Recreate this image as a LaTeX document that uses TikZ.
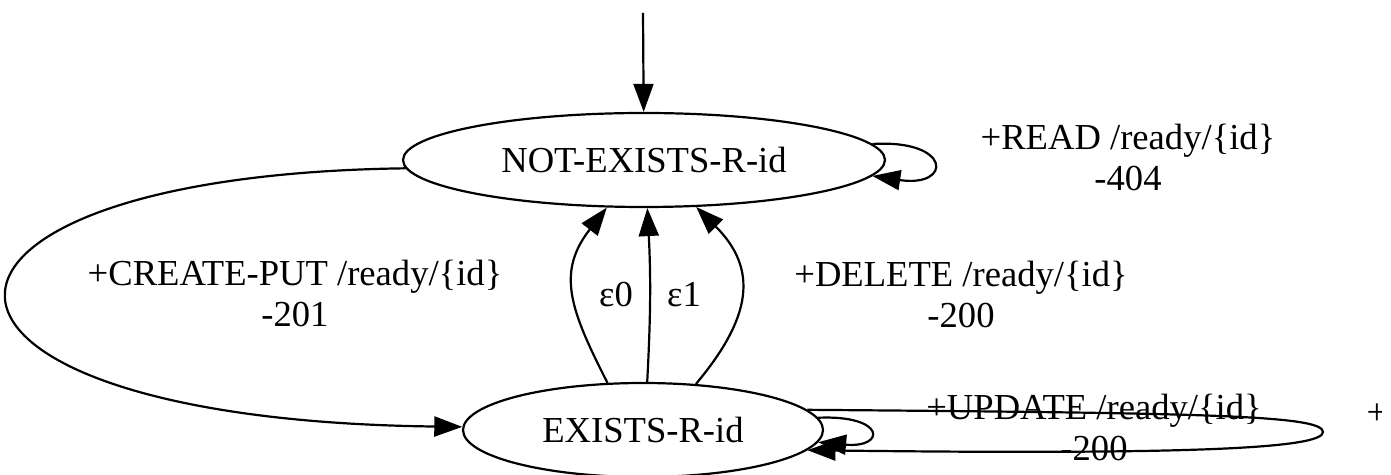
\documentclass[tikz,border=0pt]{standalone}
\usepackage{fontspec}
\setmainfont{Liberation Serif}
\usetikzlibrary{arrows.meta, shapes.geometric}

\begin{document}
\begin{tikzpicture}[
                  x=0.5pt, y=0.5pt,
                  txt/.style={font=\fontsize{18.3pt}{20.5pt}\selectfont},
                  state/.style={txt, draw, ellipse, line width=1.1pt, inner sep=0pt,
                                minimum height=47pt},
                  lbl/.style={txt, align=center, inner sep=0pt},
                  arr/.style={-{Triangle[length=14pt, width=10pt]}, line width=1.1pt},
            ]
            \useasboundingbox (0,0) rectangle (1391,475);
            \clip (0,0) rectangle (1381,475);

            % States
            \node[state, minimum width=241pt] (ne) at (644,315) {NOT-EXISTS-R-id};
            \node[state, minimum width=180pt] (ex) at (643,45) {EXISTS-R-id};
            \coordinate (start) at (643,462);

            % Edge labels
            \node[lbl] (lread) at (1128,317.5) {+READ /ready/\{id\}\\-404};
            \node[lbl] (lcreate) at (295,182) {+CREATE-PUT /ready/\{id\}\\-201};
            \node[lbl] (ldelete) at (961,181) {+DELETE /ready/\{id\}\\-200};
            \node[lbl] (lupdate) at (1094,48) {+UPDATE /ready/\{id\}\\-200};
            \node[lbl, anchor=base] (leps0) at (616,168) {ε0};
            \node[lbl, anchor=base] (leps1) at (684,168) {ε1};
            \node[lbl, anchor=base] (lcut) at (1377,50) {+};

            % Arrows
            \draw[arr] (start) -- (ne);
            \draw[arr] (ne.4) .. controls +(80,5) and +(80,-12) .. (ne.-4);
            \draw[arr] (ne.182) .. controls +(-538,-7) and +(-597,7) .. (ex.179);
            % epsilon and delete edges back up
            \draw[arr] (ex.127) to[out=117, in=-128, looseness=1.2] (ne.-128);
            \draw[arr] (ex.85) to[bend right=3] (ne.-86);
            \draw[arr] (ex.41) to[out=50, in=-45, looseness=1.27] (ne.-42);
            % self loops on EXISTS-R-id
            \draw[arr] (ex.4) .. controls +(68,3) and +(68,-6) .. (ex.-4);
            \coordinate (utip) at (1323,43);
            \draw[arr] (ex.7) .. controls (1200,62) and (1323,60) .. (utip)
                  .. controls (1323,27) and (1200,20) .. (ex.-7);

      \end{tikzpicture}
\end{document}
